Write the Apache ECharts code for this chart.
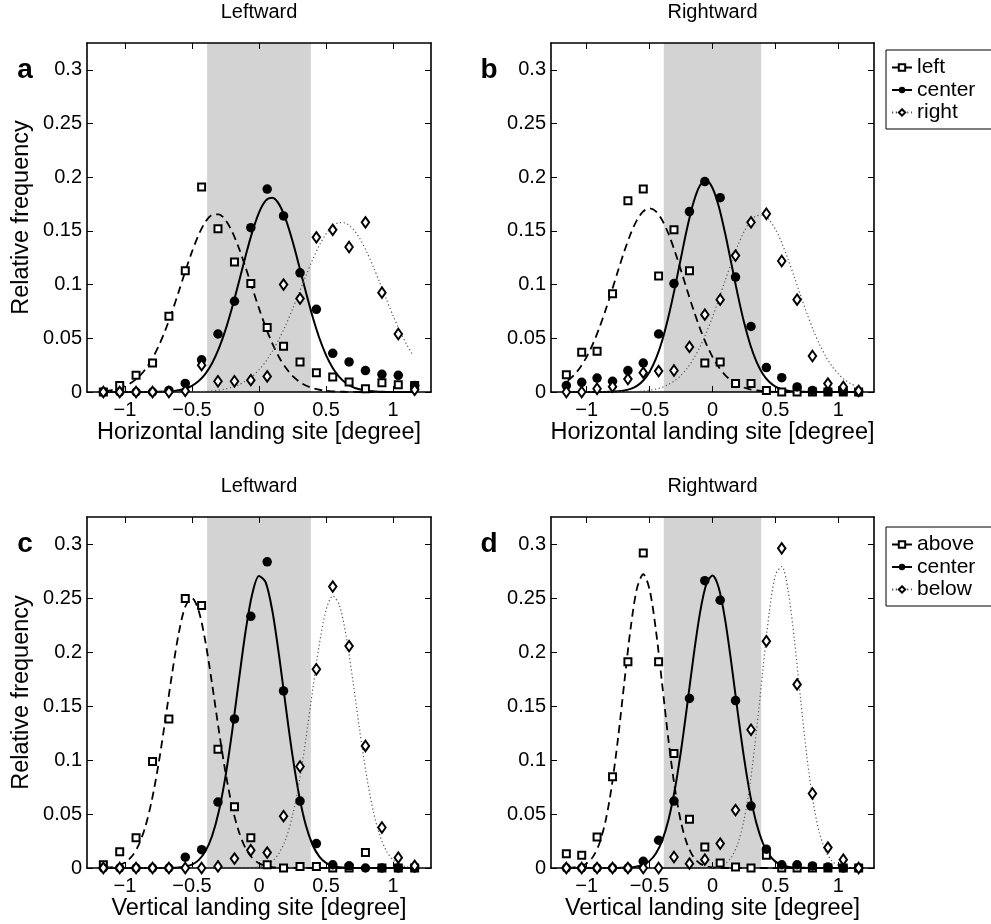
<!DOCTYPE html>
<html>
<head>
<meta charset="utf-8">
<script src="https://cdn.jsdelivr.net/npm/echarts@6/dist/echarts.min.js"></script>
<style>
  html, body { margin: 0; padding: 0; background: #fff; }
  #chart { width: 991px; height: 924px; }
</style>
</head>
<body>
<div id="chart"></div>
<script>
// ---- landing-site histograms: bin centres in degree ----
const BIN_X = [-1.161, -1.039, -0.917, -0.794, -0.672, -0.550, -0.428, -0.306, -0.183, -0.061,
               0.061, 0.183, 0.306, 0.428, 0.550, 0.672, 0.794, 0.917, 1.039, 1.161];
const X_TICKS = [-1, -0.5, 0, 0.5, 1];
const Y_TICKS = [0, 0.05, 0.1, 0.15, 0.2, 0.25, 0.3];
const BAND = [-0.387, 0.387];

// (a) horizontal landing site, leftward saccades
const hLeftwardLeft   = [0, 0.006, 0.0155, 0.027, 0.0705, 0.113, 0.191, 0.152, 0.121, 0.101, 0.060, 0.0425, 0.028, 0.018, 0.014, 0.0093, 0.003, 0.0087, 0.0068, 0.006];
const hLeftwardCenter = [0, 0, 0, 0, 0.0015, 0.008, 0.030, 0.054, 0.0845, 0.153, 0.189, 0.164, 0.111, 0.077, 0.036, 0.028, 0.020, 0.0165, 0.0155, 0.006];
const hLeftwardRight  = [0, 0, 0, 0, 0, 0.001, 0.025, 0.010, 0.010, 0.011, 0.0145, 0.100, 0.087, 0.144, 0.151, 0.135, 0.158, 0.0925, 0.054, 0.002];
// (b) horizontal landing site, rightward saccades
const hRightwardLeft   = [0.016, 0.037, 0.038, 0.0915, 0.178, 0.189, 0.108, 0.151, 0.113, 0.027, 0.028, 0.008, 0.008, 0.0015, 0, 0, 0, 0, 0, 0];
const hRightwardCenter = [0.006, 0.009, 0.013, 0.010, 0.020, 0.027, 0.054, 0.101, 0.168, 0.196, 0.181, 0.107, 0.061, 0.0227, 0.0133, 0.0047, 0.0015, 0.0006, 0.0006, 0];
const hRightwardRight  = [0, 0, 0.003, 0.005, 0.012, 0.018, 0.0195, 0.020, 0.042, 0.072, 0.086, 0.127, 0.158, 0.166, 0.122, 0.086, 0.0335, 0.0078, 0.0047, 0.001];
// (c) vertical landing site, leftward saccades
const vLeftwardAbove  = [0.003, 0.015, 0.028, 0.0985, 0.138, 0.2495, 0.243, 0.110, 0.0567, 0.028, 0.003, 0, 0.0015, 0.0015, 0, 0, 0.0143, 0, 0, 0];
const vLeftwardCenter = [0, 0, 0, 0, 0, 0.010, 0.017, 0.061, 0.138, 0.233, 0.2835, 0.164, 0.062, 0.0226, 0.003, 0.002, 0, 0, 0, 0];
const vLeftwardBelow  = [0, 0, 0, 0, 0, 0, 0, 0.0015, 0.0087, 0.0164, 0.0143, 0.048, 0.094, 0.184, 0.2606, 0.2055, 0.113, 0.0375, 0.0096, 0.002];
// (d) vertical landing site, rightward saccades
const vRightwardAbove  = [0.0133, 0.0118, 0.0288, 0.0846, 0.191, 0.2916, 0.191, 0.106, 0.0452, 0.0195, 0.0046, 0.001, 0, 0.0118, 0, 0, 0, 0, 0, 0];
const vRightwardCenter = [0, 0, 0, 0, 0, 0.0062, 0.0257, 0.062, 0.157, 0.266, 0.248, 0.155, 0.0573, 0.0174, 0.003, 0.003, 0.0019, 0.001, 0, 0];
const vRightwardBelow  = [0, 0, 0, 0, 0, 0, 0, 0.0102, 0.004, 0.0077, 0.0226, 0.0536, 0.128, 0.210, 0.296, 0.170, 0.069, 0.0189, 0.0077, 0];

// ---- fitted Gaussian curves, sampled every 0.05 degree ----
const FIT_X = [-1.15, -1.10, -1.05, -1.00, -0.95, -0.90, -0.85, -0.80, -0.75, -0.70, -0.65, -0.60,
               -0.55, -0.50, -0.45, -0.40, -0.35, -0.30, -0.25, -0.20, -0.15, -0.10, -0.05, 0,
               0.05, 0.10, 0.15, 0.20, 0.25, 0.30, 0.35, 0.40, 0.45, 0.50, 0.55, 0.60,
               0.65, 0.70, 0.75, 0.80, 0.85, 0.90, 0.95, 1.00, 1.05, 1.10, 1.15];

const fitHLeftwardLeft = [0.0010, 0.0018, 0.0032, 0.0054, 0.0088, 0.0138, 0.0208, 0.0302, 0.0423, 0.0571, 0.0742, 0.0930,
  0.1123, 0.1306, 0.1465, 0.1583, 0.1649, 0.1655, 0.1601, 0.1492, 0.1340, 0.1160, 0.0968, 0.0779,
  0.0603, 0.0450, 0.0324, 0.0225, 0.0150, 0.0097, 0.0060, 0.0036, 0.0021, 0.0011, 0.0006, 0.0003,
  0.0002, 0.0001, 0, 0, 0, 0, 0, 0, 0, 0, 0];
const fitHLeftwardCenter = [0, 0, 0, 0, 0, 0, 0, 0.0001, 0.0002, 0.0004, 0.0008, 0.0016,
  0.0032, 0.0058, 0.0102, 0.0169, 0.0268, 0.0403, 0.0578, 0.0789, 0.1025, 0.1267, 0.1491, 0.1671,
  0.1782, 0.1808, 0.1747, 0.1606, 0.1406, 0.1171, 0.0928, 0.0701, 0.0503, 0.0344, 0.0224, 0.0139,
  0.0082, 0.0046, 0.0025, 0.0012, 0.0006, 0.0003, 0.0001, 0, 0, 0, 0];
const fitHLeftwardRight = [0, 0, 0, 0, 0, 0, 0, 0, 0, 0, 0, 0,
  0.0001, 0.0002, 0.0004, 0.0006, 0.0011, 0.0018, 0.0028, 0.0045, 0.0068, 0.0101, 0.0147, 0.0207,
  0.0284, 0.0380, 0.0494, 0.0626, 0.0772, 0.0927, 0.1083, 0.1232, 0.1365, 0.1472, 0.1544, 0.1578,
  0.1570, 0.1520, 0.1433, 0.1315, 0.1174, 0.1021, 0.0864, 0.0712, 0.0571, 0.0446, 0.0339];

const fitHRightwardLeft = [0.0105, 0.0158, 0.0231, 0.0327, 0.0448, 0.0594, 0.0761, 0.0943, 0.1131, 0.1313, 0.1474, 0.1601,
  0.1682, 0.1710, 0.1682, 0.1601, 0.1474, 0.1313, 0.1131, 0.0943, 0.0761, 0.0594, 0.0448, 0.0327,
  0.0231, 0.0158, 0.0105, 0.0067, 0.0042, 0.0025, 0.0014, 0.0008, 0.0004, 0.0002, 0.0001, 0,
  0, 0, 0, 0, 0, 0, 0, 0, 0, 0, 0];
const fitHRightwardCenter = [0, 0, 0, 0, 0, 0, 0.0001, 0.0003, 0.0006, 0.0014, 0.0029, 0.0057,
  0.0107, 0.0187, 0.0308, 0.0478, 0.0700, 0.0965, 0.1253, 0.1534, 0.1769, 0.1923, 0.1969, 0.1900,
  0.1728, 0.1480, 0.1195, 0.0909, 0.0651, 0.0440, 0.0280, 0.0168, 0.0095, 0.0050, 0.0025, 0.0012,
  0.0005, 0.0002, 0.0001, 0, 0, 0, 0, 0, 0, 0, 0];
const fitHRightwardRight = [0, 0, 0, 0, 0, 0, 0, 0, 0.0001, 0.0002, 0.0003, 0.0005,
  0.0010, 0.0017, 0.0027, 0.0044, 0.0069, 0.0106, 0.0156, 0.0223, 0.0311, 0.0419, 0.0550, 0.0699,
  0.0864, 0.1035, 0.1205, 0.1361, 0.1492, 0.1588, 0.1641, 0.1646, 0.1603, 0.1515, 0.1389, 0.1237,
  0.1070, 0.0898, 0.0731, 0.0578, 0.0444, 0.0331, 0.0239, 0.0168, 0.0114, 0.0076, 0.0049];

const fitVLeftwardAbove = [0.0003, 0.0009, 0.0022, 0.0050, 0.0106, 0.0207, 0.0374, 0.0624, 0.0959, 0.1362, 0.1787, 0.2165,
  0.2421, 0.2499, 0.2382, 0.2097, 0.1704, 0.1279, 0.0886, 0.0566, 0.0335, 0.0182, 0.0092, 0.0043,
  0.0018, 0.0007, 0.0003, 0.0001, 0, 0, 0, 0, 0, 0, 0, 0,
  0, 0, 0, 0, 0, 0, 0, 0, 0, 0, 0];
const fitVLeftwardCenter = [0, 0, 0, 0, 0, 0, 0, 0, 0, 0.0001, 0.0002, 0.0005,
  0.0013, 0.0032, 0.0073, 0.0154, 0.0296, 0.0523, 0.0849, 0.1268, 0.1739, 0.2192, 0.2539, 0.2704,
  0.2645, 0.2377, 0.1964, 0.1491, 0.1040, 0.0667, 0.0393, 0.0213, 0.0106, 0.0048, 0.0020, 0.0008,
  0.0003, 0.0001, 0, 0, 0, 0, 0, 0, 0, 0, 0];
const fitVLeftwardBelow = [0, 0, 0, 0, 0, 0, 0, 0, 0, 0, 0, 0,
  0, 0, 0, 0, 0, 0, 0, 0, 0, 0.0001, 0.0004, 0.0011,
  0.0027, 0.0064, 0.0138, 0.0270, 0.0485, 0.0796, 0.1197, 0.1647, 0.2073, 0.2388, 0.2519, 0.2431,
  0.2148, 0.1736, 0.1285, 0.0870, 0.0539, 0.0306, 0.0159, 0.0075, 0.0033, 0.0013, 0.0005];

const fitVRightwardAbove = [0.0002, 0.0006, 0.0016, 0.0043, 0.0103, 0.0222, 0.0433, 0.0761, 0.1206, 0.1724, 0.2224, 0.2589,
  0.2720, 0.2579, 0.2206, 0.1703, 0.1186, 0.0746, 0.0423, 0.0216, 0.0100, 0.0042, 0.0016, 0.0005,
  0.0002, 0, 0, 0, 0, 0, 0, 0, 0, 0, 0, 0,
  0, 0, 0, 0, 0, 0, 0, 0, 0, 0, 0];
const fitVRightwardCenter = [0, 0, 0, 0, 0, 0, 0, 0, 0.0001, 0.0002, 0.0005, 0.0013,
  0.0030, 0.0066, 0.0135, 0.0254, 0.0445, 0.0722, 0.1087, 0.1518, 0.1964, 0.2358, 0.2625, 0.2709,
  0.2593, 0.2302, 0.1894, 0.1446, 0.1024, 0.0672, 0.0409, 0.0231, 0.0121, 0.0059, 0.0026, 0.0011,
  0.0004, 0.0002, 0.0001, 0, 0, 0, 0, 0, 0, 0, 0];
const fitVRightwardBelow = [0, 0, 0, 0, 0, 0, 0, 0, 0, 0, 0, 0,
  0, 0, 0, 0, 0, 0, 0, 0, 0, 0, 0.0001, 0.0005,
  0.0014, 0.0039, 0.0099, 0.0221, 0.0443, 0.0795, 0.1276, 0.1834, 0.2357, 0.2712, 0.2791, 0.2571,
  0.2119, 0.1563, 0.1031, 0.0609, 0.0322, 0.0152, 0.0064, 0.0024, 0.0008, 0.0003, 0.0001];

// ---- layout and styling ----
const FONT = "'Liberation Sans', Arial, Helvetica, sans-serif";
const X_LIM = 1.283;
const Y_MAX = 0.325;
const TICK_FONT = 20;
const NAME_FONT = 23.5;

const PANELS = [
  { grid: { left: 87,  top: 43,  width: 344, height: 349 }, title: 'Leftward',  letter: 'a',
    xName: 'Horizontal landing site [degree]', yName: 'Relative frequency',
    names: ['left', 'center', 'right'],
    points: [hLeftwardLeft, hLeftwardCenter, hLeftwardRight],
    fits: [fitHLeftwardLeft, fitHLeftwardCenter, fitHLeftwardRight] },
  { grid: { left: 551, top: 43,  width: 323, height: 349 }, title: 'Rightward', letter: 'b',
    xName: 'Horizontal landing site [degree]', yName: '',
    names: ['left', 'center', 'right'],
    points: [hRightwardLeft, hRightwardCenter, hRightwardRight],
    fits: [fitHRightwardLeft, fitHRightwardCenter, fitHRightwardRight] },
  { grid: { left: 87,  top: 517, width: 344, height: 351 }, title: 'Leftward',  letter: 'c',
    xName: 'Vertical landing site [degree]', yName: 'Relative frequency',
    names: ['above', 'center', 'below'],
    points: [vLeftwardAbove, vLeftwardCenter, vLeftwardBelow],
    fits: [fitVLeftwardAbove, fitVLeftwardCenter, fitVLeftwardBelow] },
  { grid: { left: 551, top: 517, width: 323, height: 351 }, title: 'Rightward', letter: 'd',
    xName: 'Vertical landing site [degree]', yName: '',
    names: ['above', 'center', 'below'],
    points: [vRightwardAbove, vRightwardCenter, vRightwardBelow],
    fits: [fitVRightwardAbove, fitVRightwardCenter, fitVRightwardBelow] }
];

// one style per condition: dashed + open square, solid + dot, dotted + open diamond
const STYLES = [
  { symbol: 'rect', size: 7, item: { color: '#fff', borderColor: '#000', borderWidth: 2, opacity: 1 },
    line: { color: '#000', width: 1.8, type: [8, 5] } },
  { symbol: 'circle', size: 9.5, item: { color: '#000', opacity: 1 },
    line: { color: '#000', width: 2, type: 'solid' } },
  { symbol: 'diamond', size: [7.5, 10.5], item: { color: '#fff', borderColor: '#000', borderWidth: 2, opacity: 1 },
    line: { color: '#555', width: 1.2, type: [1.2, 2.6] } }
];

const minusFmt = v => (v < 0 ? '\u2212' + String(-v) : String(v));
const boxLine = { onZero: false, lineStyle: { color: '#000', width: 1.6 } };
const tickStyle = vals => ({ inside: true, length: 6, customValues: vals, lineStyle: { color: '#000', width: 1 } });

const grids = [], xAxes = [], yAxes = [], series = [], graphics = [];

PANELS.forEach((p, i) => {
  grids.push(Object.assign({ containLabel: false }, p.grid));

  // bottom and top x axes (the top one only closes the box and carries ticks)
  xAxes.push({
    gridIndex: i, type: 'value', min: -X_LIM, max: X_LIM, position: 'bottom', z: 3,
    axisLine: boxLine, axisTick: tickStyle(X_TICKS), splitLine: { show: false },
    axisLabel: { customValues: X_TICKS, formatter: minusFmt, color: '#000', fontSize: TICK_FONT, fontFamily: FONT, margin: 8 },
    name: p.xName, nameLocation: 'middle', nameGap: 27,
    nameTextStyle: { color: '#000', fontSize: NAME_FONT, fontFamily: FONT }
  });
  xAxes.push({
    gridIndex: i, type: 'value', min: -X_LIM, max: X_LIM, position: 'top', z: 3,
    axisLine: boxLine, axisTick: tickStyle(X_TICKS), splitLine: { show: false },
    axisLabel: { show: false }
  });
  // left and right y axes
  yAxes.push({
    gridIndex: i, type: 'value', min: 0, max: Y_MAX, position: 'left', z: 3,
    axisLine: boxLine, axisTick: tickStyle(Y_TICKS), splitLine: { show: false },
    axisLabel: { customValues: Y_TICKS, formatter: v => String(v), color: '#000', fontSize: TICK_FONT, fontFamily: FONT, margin: 5 },
    name: p.yName, nameLocation: 'middle', nameGap: 53,
    nameTextStyle: { color: '#000', fontSize: NAME_FONT, fontFamily: FONT }
  });
  yAxes.push({
    gridIndex: i, type: 'value', min: 0, max: Y_MAX, position: 'right', z: 3,
    axisLine: boxLine, axisTick: tickStyle(Y_TICKS), splitLine: { show: false },
    axisLabel: { show: false }
  });

  const xi = 2 * i, yi = 2 * i;

  // grey central zone
  series.push({
    type: 'line', xAxisIndex: xi, yAxisIndex: yi, data: [], z: 1, silent: true,
    markArea: { silent: true, z: 1, itemStyle: { color: '#d3d3d3' },
      data: [[{ xAxis: BAND[0] }, { xAxis: BAND[1] }]] }
  });

  // fitted curves
  p.fits.forEach((fit, k) => {
    const s = STYLES[k];
    series.push({
      type: 'line', name: p.names[k], xAxisIndex: xi, yAxisIndex: yi, z: 4, silent: true,
      data: FIT_X.map((x, j) => [x, fit[j]]),
      showSymbol: false, symbol: s.symbol, symbolSize: 6, smooth: 0.3,
      itemStyle: s.item, lineStyle: s.line, emphasis: { disabled: true }
    });
  });

  // observed relative frequencies
  p.points.forEach((vals, k) => {
    const s = STYLES[k];
    series.push({
      type: 'scatter', name: p.names[k], xAxisIndex: xi, yAxisIndex: yi, z: 5, clip: false, silent: true,
      data: BIN_X.map((x, j) => [x, vals[j]]),
      symbol: s.symbol, symbolSize: s.size, itemStyle: s.item, emphasis: { disabled: true }
    });
  });

  // panel heading and letter
  const cx = p.grid.left + p.grid.width / 2;
  graphics.push({
    type: 'text', x: cx, y: p.grid.top - 31, z: 10,
    style: { text: p.title, fill: '#000', font: `20px ${FONT}`, align: 'center', verticalAlign: 'middle',
             textAlign: 'center', textVerticalAlign: 'middle' }
  });
  graphics.push({
    type: 'text', x: p.grid.left - 62, y: p.grid.top + 27, z: 10,
    style: { text: p.letter, fill: '#000', font: `bold 28px ${FONT}`, align: 'center', verticalAlign: 'middle',
             textAlign: 'center', textVerticalAlign: 'middle' }
  });
});

const legendBase = {
  orient: 'vertical', left: 886, itemWidth: 20, itemHeight: 8, itemGap: 1.5, itemTextGap: 1,
  padding: [7, 40, 6, 5], borderColor: '#000', borderWidth: 1, backgroundColor: '#fff',
  selectedMode: false, textStyle: { color: '#000', fontSize: 21, lineHeight: 21, fontFamily: FONT }
};

const chart = echarts.init(document.getElementById('chart'), null, { renderer: 'canvas' });
chart.setOption({
  backgroundColor: '#fff',
  animation: false,
  grid: grids,
  xAxis: xAxes,
  yAxis: yAxes,
  legend: [
    Object.assign({}, legendBase, { top: 50, data: ['left', 'center', 'right'] }),
    Object.assign({}, legendBase, { top: 527, data: ['above', 'center', 'below'] })
  ],
  graphic: graphics,
  series: series
});
</script>
</body>
</html>
